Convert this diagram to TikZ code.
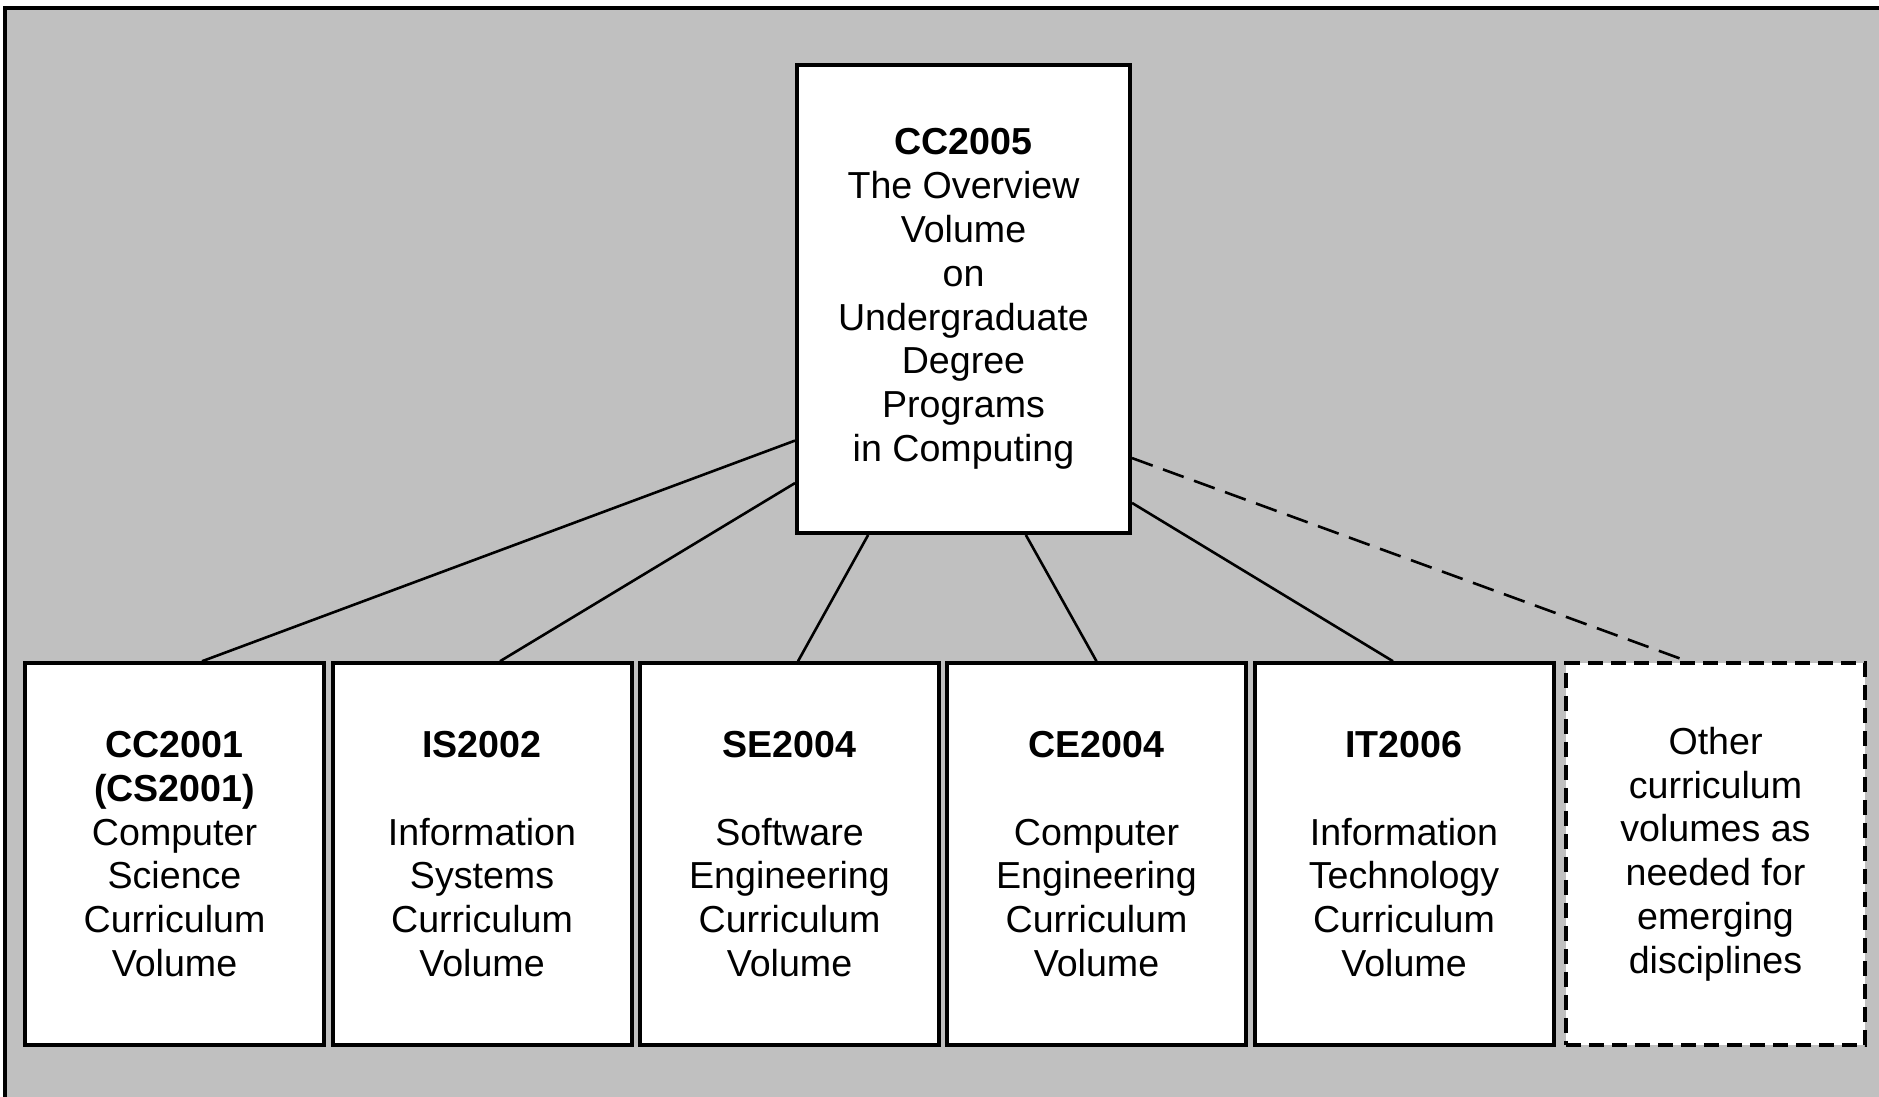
\documentclass[tikz,border=0pt]{standalone}
\usepackage{fontspec}
\setmainfont{Liberation Sans}
\usetikzlibrary{calc}
\definecolor{panel}{HTML}{C0C0C0}
\tikzset{volbox/.style={draw=black,fill=white,line width=2pt,align=center,inner sep=0pt,minimum width=149.5pt,minimum height=190.75pt,font=\fontsize{18.8}{21.9}\selectfont,execute at begin node={\rule{0pt}{19.5pt}}}, topbox/.style={volbox,minimum width=166.5pt,minimum height=234pt},openbox/.style={volbox,dash pattern=on 7.5pt off 4pt},link/.style={line width=1.3pt,black},openlink/.style={link,dash pattern=on 11pt off 5.5pt}}

\begin{document}
\begin{tikzpicture}[x=.5pt,y=-.5pt]
\useasboundingbox (0,0) rectangle (1879,1097);
\fill[white] (0,0) rectangle (1879,1097);
\fill[panel] (5,8) rectangle (1879,1097);
\draw[line width=2pt] (5,1110) -- (5,8) -- (1890,8);
\node[topbox] (cc05) at (963.5,299) {\textbf{CC2005}\\The Overview\\Volume\\on\\Undergraduate\\Degree\\Programs\\in Computing};
\node[volbox] (cs01) at (174.5,854) {\textbf{CC2001}\\\textbf{(CS2001)}\\Computer\\Science\\Curriculum\\Volume};
\node[volbox] (is02) at (482,854) {\textbf{IS2002}\\[\baselineskip]Information\\Systems\\Curriculum\\Volume};
\node[volbox] (se04) at (789.5,854) {\textbf{SE2004}\\[\baselineskip]Software\\Engineering\\Curriculum\\Volume};
\node[volbox] (ce04) at (1096.5,854) {\textbf{CE2004}\\[\baselineskip]Computer\\Engineering\\Curriculum\\Volume};
\node[volbox] (it06) at (1404,854) {\textbf{IT2006}\\[\baselineskip]Information\\Technology\\Curriculum\\Volume};
\node[openbox] (other) at (1715.5,854) {Other\\curriculum\\volumes as\\needed for\\emerging\\disciplines};
% links from the overview volume
\draw[link] ($(cc05.north west)!.80!(cc05.south west)$) -- ($(cs01.north)+(27.5,0)$);
\draw[link] ($(cc05.north west)!.89!(cc05.south west)$) -- ($(is02.north)+(18,0)$);
\draw[link] ($(cc05.south west)!.217!(cc05.south east)$) -- ($(se04.north)+(8.5,0)$);
\draw[link] ($(cc05.south west)!.685!(cc05.south east)$) -- (ce04.north);
\draw[link] ($(cc05.north east)!.932!(cc05.south east)$) -- ($(it06.north)+(-11,0)$);
\draw[openlink] ($(cc05.north east)!.837!(cc05.south east)$) -- ($(other.north)+(-28,0)$);
\end{tikzpicture}
\end{document}
